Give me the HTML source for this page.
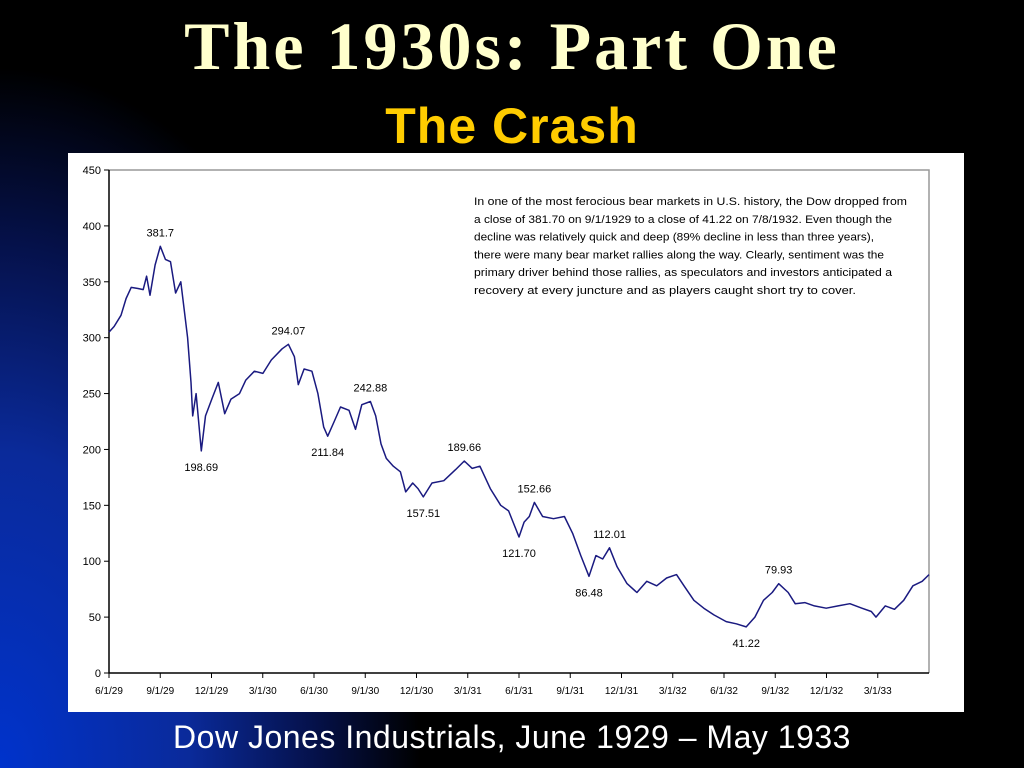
<!DOCTYPE html>
<html><head><meta charset="utf-8"><style>
html,body{margin:0;padding:0;}
body{width:1024px;height:768px;overflow:hidden;position:relative;font-family:"Liberation Sans",sans-serif;
background:radial-gradient(ellipse 420px 700px at 0px 768px,#0033cc 0%,#0a2a9a 45%,#05114a 75%,#000 100%),#000;}
#title{position:absolute;left:0;width:1024px;top:8px;text-align:center;font-family:"Liberation Serif",serif;font-weight:bold;font-size:68px;letter-spacing:3px;color:#ffffcc;line-height:76px;}
#sub{position:absolute;left:0;width:1024px;top:98px;text-align:center;font-weight:bold;font-size:50px;letter-spacing:1px;color:#ffcc00;line-height:56px;}
#cap{position:absolute;left:0;width:1024px;top:717px;text-align:center;font-size:32px;letter-spacing:0.5px;color:#fff;line-height:40px;}
#chart{position:absolute;left:68px;top:153px;}
</style></head><body>
<div id="title">The 1930s: Part One</div>
<div id="sub">The Crash</div>
<svg id="chart" width="896" height="559" xmlns="http://www.w3.org/2000/svg"></svg>
<div id="cap">Dow Jones Industrials, June 1929 – May 1933</div>
<script>
const months=[0,0.3,0.7,1.0,1.3,1.7,2.0,2.2,2.4,2.7,3.0,3.3,3.6,3.9,4.2,4.4,4.6,4.8,4.9,5.1,5.4,5.65,6.02,6.4,6.77,7.14,7.64,8.01,8.51,9.01,9.5,10.13,10.5,10.85,11.08,11.42,11.88,12.23,12.57,12.8,13.18,13.55,14.05,14.43,14.8,15.3,15.61,15.92,16.23,16.64,17.06,17.37,17.78,18.09,18.4,18.91,19.6,20.29,20.8,21.26,21.71,22.32,22.93,23.39,24.0,24.3,24.6,24.9,25.38,26.02,26.66,27.14,27.62,28.1,28.5,28.9,29.3,29.74,30.32,30.9,31.48,32.06,32.64,33.22,33.66,34.24,34.82,35.41,36.13,36.72,37.3,37.81,38.31,38.82,39.2,39.76,40.17,40.73,41.29,41.98,42.68,43.37,44.07,44.62,44.9,45.44,45.98,46.52,47.06,47.6,48.0];
const values=[305,310,320,335,345,344,343,355,338,365,381.7,370,368,340,350,325,300,260,230,250,198.69,230,245,260,232,245,250,262,270,268,280,290,294.07,283,258,272,270,250,220,211.84,225,238,235,218,240,242.88,230,205,192,185,180,162,170,165,157.51,170,172,182,189.66,183,185,165,150,145,121.7,135,140,152.66,140,138,140,125,105,86.48,105,102,112.01,95,80,72,82,78,85,88,78,65,58,52,46,44,41.22,50,65,72,79.93,72,62,63,60,58,60,62,58,55,50,60,57,65,78,82,88];
const yTicks=[0,50,100,150,200,250,300,350,400,450];
const xTickLabels=["6/1/29","9/1/29","12/1/29","3/1/30","6/1/30","9/1/30","12/1/30","3/1/31","6/1/31","9/1/31","12/1/31","3/1/32","6/1/32","9/1/32","12/1/32","3/1/33"];
const annoText=["381.7","198.69","294.07","211.84","242.88","189.66","157.51","152.66","121.70","112.01","86.48","79.93","41.22"];
const annoMonth=[3.0,5.4,10.5,12.8,15.3,20.8,18.4,24.9,24.0,29.3,28.1,39.2,37.3];
const annoValue=[381.7,198.69,294.07,211.84,242.88,189.66,157.51,152.66,121.7,112.01,86.48,79.93,41.22];
const annoAbove=[1,0,1,0,1,1,0,1,0,1,0,1,0];
const note=["In one of the most ferocious bear markets in U.S. history, the Dow dropped from","a close of 381.70 on 9/1/1929 to a close of 41.22 on 7/8/1932.  Even though the","decline was relatively quick and deep (89% decline in less than three years),","there were many bear market rallies along the way.  Clearly, sentiment was the","primary driver behind those rallies, as speculators and investors anticipated a","recovery at every juncture and as players caught short try to cover."];
const noteW=[433,418,400,410,418,382];

const svg=document.getElementById('chart');
const NS='http://www.w3.org/2000/svg';
const X0=41,X1=861,Y0=520,Y1=17;
const xs=m=>X0+m*(820/48);
const ys=v=>Y0-v*(Y0-Y1)/450;
function mk(t,a){const e=document.createElementNS(NS,t);for(const k in a)e.setAttribute(k,a[k]);svg.appendChild(e);return e;}
let r=mk('rect',{x:0,y:0,width:896,height:559,fill:'#fff'});


let f=mk('path',{d:`M${X0} ${Y1}H${X1}V${Y0}`,stroke:'#999',fill:'none','stroke-width':1.5});


let ax=mk('path',{d:`M${X0} ${Y1}V${Y0}H${X1}`,stroke:'#000',fill:'none','stroke-width':1.5});


yTicks.forEach(v=>{
 const y=ys(v);
 let t=mk('line',{x1:X0-5,x2:X0,y1:y,y2:y,stroke:'#000'});
 
 
 let l=mk('text',{x:X0-8,y:y+4,'text-anchor':'end','font-size':11,'font-family':'Liberation Sans,sans-serif'});
 l.textContent=v;
 
 
});
xTickLabels.forEach((s,i)=>{
 const x=xs(i*3);
 let t=mk('line',{x1:x,x2:x,y1:Y0,y2:Y0+5,stroke:'#000'});
 
 
 let l=mk('text',{x:x,y:Y0+21,'text-anchor':'middle','font-size':10,'font-family':'Liberation Sans,sans-serif'});
 l.textContent=s;
 
 
});
let line=mk('polyline',{points:months.map((m,i)=>xs(m).toFixed(1)+','+ys(values[i]).toFixed(1)).join(' '),fill:'none',stroke:'#1a1a80','stroke-width':1.5,'stroke-linejoin':'round'});


annoText.forEach((s,i)=>{
 const y=ys(annoValue[i])+(annoAbove[i]?-10:20);
 let l=mk('text',{x:xs(annoMonth[i]),y:y,'text-anchor':'middle','font-size':11,'font-family':'Liberation Sans,sans-serif'});
 l.textContent=s;
 
 
});
note.forEach((s,i)=>{
 let l=mk('text',{x:406,y:52+i*17.8,'font-size':11,'font-family':'Liberation Sans,sans-serif',textLength:noteW[i],lengthAdjust:'spacingAndGlyphs'});
 l.textContent=s;
 
 
});
</script>
</body></html>
